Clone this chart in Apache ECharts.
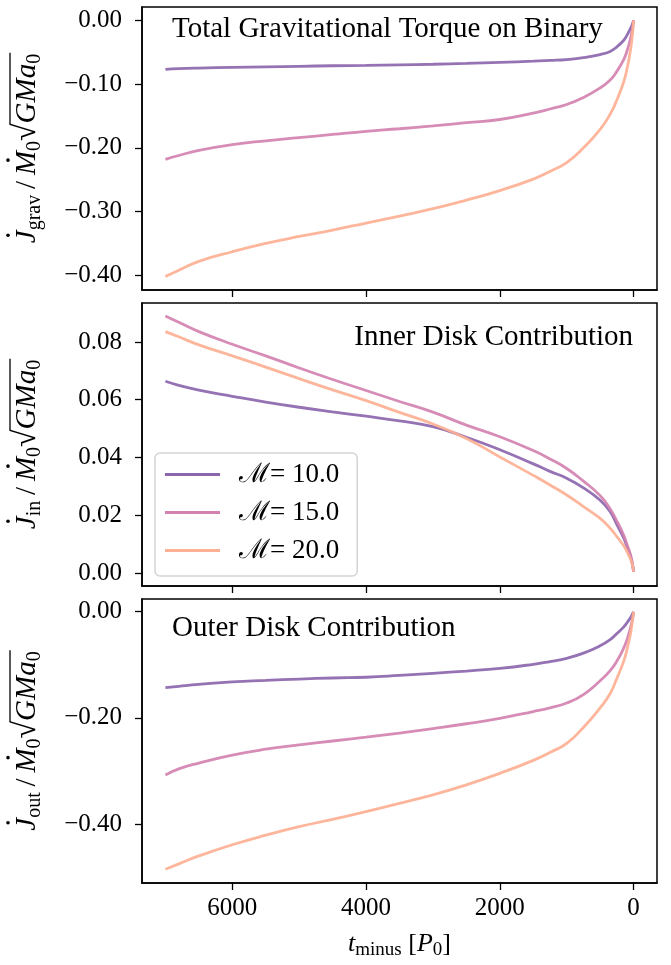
<!DOCTYPE html>
<html>
<head>
<meta charset="utf-8">
<script src="https://cdn.jsdelivr.net/npm/echarts@6/dist/echarts.min.js"></script>
<style>
  html, body { margin: 0; padding: 0; background: #fff; }
  #main { width: 671px; height: 965px; }
</style>
</head>
<body>
<div id="main"></div>
<script>
// ------------------------------------------------------
// Data
// ------------------------------------------------------
var tMinus = [7000, 6800, 6500, 6000, 5500, 5000, 4500, 4000, 3500, 3000, 2500, 2000,
              1500, 1250, 1000, 750, 500, 350, 250, 150, 100, 50, 20, 0]

var machNames = ['\u2133= 10.0', '\u2133= 15.0', '\u2133= 20.0']

// total gravitational torque on binary
var gravM10 = [-0.077, -0.0758, -0.0748, -0.0737, -0.0728, -0.0720, -0.0712, -0.0705, -0.0697, -0.0688, -0.0675, -0.0658,
               -0.0640, -0.0628, -0.0614, -0.0585, -0.0536, -0.0487, -0.0415, -0.0315, -0.0235, -0.0135, -0.0065, 0.0]
var gravM15 = [-0.218, -0.212, -0.204, -0.195, -0.189, -0.184, -0.179, -0.174, -0.170, -0.1655, -0.1605, -0.1555,
               -0.1455, -0.139, -0.132, -0.121, -0.106, -0.0935, -0.080, -0.062, -0.0485, -0.030, -0.0145, 0.0]
var gravM20 = [-0.402, -0.392, -0.378, -0.363, -0.350, -0.339, -0.329, -0.318, -0.307, -0.2955, -0.282, -0.267,
               -0.249, -0.237, -0.223, -0.200, -0.171, -0.147, -0.125, -0.097, -0.077, -0.049, -0.025, 0.0]

// inner disk contribution
var innerM10 = [0.0664, 0.0650, 0.0633, 0.0612, 0.0592, 0.0574, 0.0558, 0.0543, 0.0527, 0.0507, 0.0470, 0.0427,
                0.0378, 0.0352, 0.0328, 0.0295, 0.0252, 0.0212, 0.0168, 0.0122, 0.0092, 0.0060, 0.0032, 0.0005]
var innerM15 = [0.0890, 0.0868, 0.0836, 0.0792, 0.0752, 0.0710, 0.0670, 0.0632, 0.0594, 0.0557, 0.0512, 0.0472,
                0.0424, 0.0395, 0.0362, 0.0318, 0.0268, 0.0222, 0.0180, 0.0132, 0.0100, 0.0066, 0.0036, 0.0005]
var innerM20 = [0.0836, 0.0818, 0.0790, 0.0752, 0.0713, 0.0673, 0.0634, 0.0597, 0.0556, 0.0516, 0.0466, 0.0402,
                0.0338, 0.0305, 0.0270, 0.0230, 0.0189, 0.0155, 0.0126, 0.0095, 0.0075, 0.0050, 0.0030, 0.0005]

// outer disk contribution
var outerM10 = [-0.143, -0.1405, -0.137, -0.132, -0.1293, -0.1268, -0.1248, -0.1234, -0.1200, -0.1160, -0.1117, -0.1067,
                -0.0990, -0.0938, -0.0878, -0.0780, -0.0640, -0.0525, -0.0410, -0.0290, -0.0210, -0.0120, -0.0050, 0.0]
var outerM15 = [-0.3075, -0.296, -0.285, -0.270, -0.259, -0.251, -0.2435, -0.2362, -0.2285, -0.2200, -0.211, -0.2008,
                -0.188, -0.181, -0.172, -0.156, -0.130, -0.111, -0.093, -0.069, -0.053, -0.032, -0.016, 0.0]
var outerM20 = [-0.485, -0.475, -0.460, -0.439, -0.421, -0.405, -0.391, -0.3766, -0.361, -0.345, -0.326, -0.3044,
                -0.280, -0.265, -0.248, -0.218, -0.181, -0.154, -0.1255, -0.094, -0.072, -0.044, -0.019, 0.0]

var xTicks = [0, 2000, 4000, 6000]
var yTicks = [
  [-0.4, -0.3, -0.2, -0.1, 0],
  [0, 0.02, 0.04, 0.06, 0.08],
  [-0.4, -0.2, 0]
]
var yRange = [[-0.423, 0.021], [-0.0045, 0.0935], [-0.511, 0.024]]
var panelTitles = ['Total Gravitational Torque on Binary', 'Inner Disk Contribution', 'Outer Disk Contribution']
var ySubs = ['grav', 'in', 'out']

var colors = ['#8c66ad', '#d382b0', '#fdb093']
var SERIF = "'Liberation Serif', 'DejaVu Serif', serif"

// ------------------------------------------------------
// Helpers
// ------------------------------------------------------
function zip(xs, ys) {
  return xs.map(function (x, i) { return [x, ys[i]] })
}

function fmtTick(v) {
  var s = Math.abs(v).toFixed(2)
  return v < -1e-9 ? '\u2212' + s : s
}

// rotated y label: J_sub / M_0 sqrt(G M a_0)
function mathLabel(cx, cy, sub) {
  var ctx = document.createElement('canvas').getContext('2d')
  var big = 'italic 29px ' + SERIF
  var rom = '29px ' + SERIF
  var small = '20px ' + SERIF
  var parts = [
    {t: 'J', font: big, dot: true},
    {t: sub, font: small, dy: 8},
    {t: '\u2009/\u2009', font: rom},
    {t: 'M', font: big, dot: true},
    {t: '0', font: small, dy: 8},
    {t: '\u221A', font: '32px ' + SERIF, dy: 0},
    {t: 'GMa', font: big, over: true},
    {t: '0', font: small, dy: 8, over: true}
  ]
  var x = 0, kids = [], o0 = null, o1 = 0
  parts.forEach(function (p) {
    ctx.font = p.font
    var w = ctx.measureText(p.t).width
    kids.push({type: 'text', x: x, y: p.dy || 0,
      style: {text: p.t, font: p.font, fill: '#000', align: 'left', verticalAlign: 'middle',
              textAlign: 'left', textVerticalAlign: 'middle'}})
    if (p.dot) kids.push({type: 'circle', shape: {cx: x + w * 0.62, cy: -19, r: 1.8}, style: {fill: '#000'}})
    if (p.over) { if (o0 === null) o0 = x; o1 = x + w }
    x += w
  })
  kids.push({type: 'line', shape: {x1: o0 - 1, y1: -17, x2: o1 + 1, y2: -17}, style: {stroke: '#000', lineWidth: 1.3}})
  var half = x / 2
  kids.forEach(function (k) {
    if (k.type === 'text') k.x -= half
    else if (k.type === 'circle') k.shape.cx -= half
    else { k.shape.x1 -= half; k.shape.x2 -= half }
  })
  return {type: 'group', x: cx, y: cy, rotation: Math.PI / 2, children: kids}
}

// ------------------------------------------------------
// Chart
// ------------------------------------------------------
var chart = echarts.init(document.getElementById('main'))

var grids = [
  {left: 142, right: 14, top: 7, height: 283},
  {left: 142, right: 14, top: 303, height: 283},
  {left: 142, right: 14, top: 599, height: 284}
].map(function (g) {
  return Object.assign(g, {show: true, borderColor: '#000', borderWidth: 1.5, backgroundColor: '#fff'})
})

var xAxes = [0, 1, 2].map(function (i) {
  return {
    type: 'value', gridIndex: i, inverse: true, min: -350, max: 7350,
    splitLine: {show: false},
    axisLine: {show: true, onZero: false, lineStyle: {color: '#000', width: 1.5}},
    axisTick: {show: true, customValues: xTicks, length: 7, lineStyle: {color: '#000', width: 1.3}},
    axisLabel: {show: i === 2, customValues: xTicks, formatter: function (v) { return String(v) },
                margin: 13, fontSize: 25, fontFamily: SERIF, color: '#000'},
    name: i === 2 ? '{it|t}{sub|minus} [{it|P}{sub|0}]' : '',
    nameLocation: 'middle', nameGap: 46,
    nameTextStyle: {
      fontSize: 26, fontFamily: SERIF, color: '#000',
      rich: {
        it: {fontStyle: 'italic', fontSize: 26, fontFamily: SERIF, color: '#000'},
        sub: {fontSize: 19, fontFamily: SERIF, color: '#000', padding: [12, 0, 0, 0]}
      }
    }
  }
})

var yAxes = [0, 1, 2].map(function (i) {
  return {
    type: 'value', gridIndex: i, min: yRange[i][0], max: yRange[i][1],
    splitLine: {show: false},
    axisLine: {show: true, onZero: false, lineStyle: {color: '#000', width: 1.5}},
    axisTick: {show: true, customValues: yTicks[i], length: 7, lineStyle: {color: '#000', width: 1.3}},
    axisLabel: {customValues: yTicks[i], formatter: fmtTick, margin: 20, fontSize: 25, fontFamily: SERIF, color: '#000'}
  }
})

var panels = [[gravM10, gravM15, gravM20], [innerM10, innerM15, innerM20], [outerM10, outerM15, outerM20]]
var series = []
panels.forEach(function (set, p) {
  set.forEach(function (vals, m) {
    series.push({
      type: 'line', name: machNames[m], xAxisIndex: p, yAxisIndex: p,
      data: zip(tMinus, vals),
      showSymbol: false, smooth: 0.5,
      lineStyle: {width: 2.8, color: colors[m], opacity: 0.92},
      itemStyle: {color: colors[m]},
      emphasis: {disabled: true}
    })
  })
})

var titleStyle = {fontSize: 29, fontWeight: 'normal', fontFamily: SERIF, color: '#000'}

var option = {
  animation: false,
  backgroundColor: '#fff',
  title: [
    {text: panelTitles[0], left: 172, top: 15, padding: 0, textStyle: titleStyle},
    {text: panelTitles[1], right: 38, top: 323, padding: 0, textStyle: titleStyle},
    {text: panelTitles[2], left: 172, top: 614, padding: 0, textStyle: titleStyle}
  ],
  legend: {
    data: machNames, orient: 'vertical', left: 155, top: 453,
    icon: 'rect', itemWidth: 55, itemHeight: 3, itemGap: 11,
    padding: [8, 18, 12, 10],
    backgroundColor: 'rgba(255,255,255,0.8)', borderColor: '#d4d4d4', borderWidth: 1.5, borderRadius: 5,
    textStyle: {fontSize: 27, fontFamily: SERIF, color: '#000', padding: [0, 0, 0, 14]}
  },
  grid: grids,
  xAxis: xAxes,
  yAxis: yAxes,
  series: series,
  graphic: [
    mathLabel(27, 148.5, ySubs[0]),
    mathLabel(27, 444.5, ySubs[1]),
    mathLabel(27, 741, ySubs[2])
  ]
}

option && chart.setOption(option)
</script>
</body>
</html>
